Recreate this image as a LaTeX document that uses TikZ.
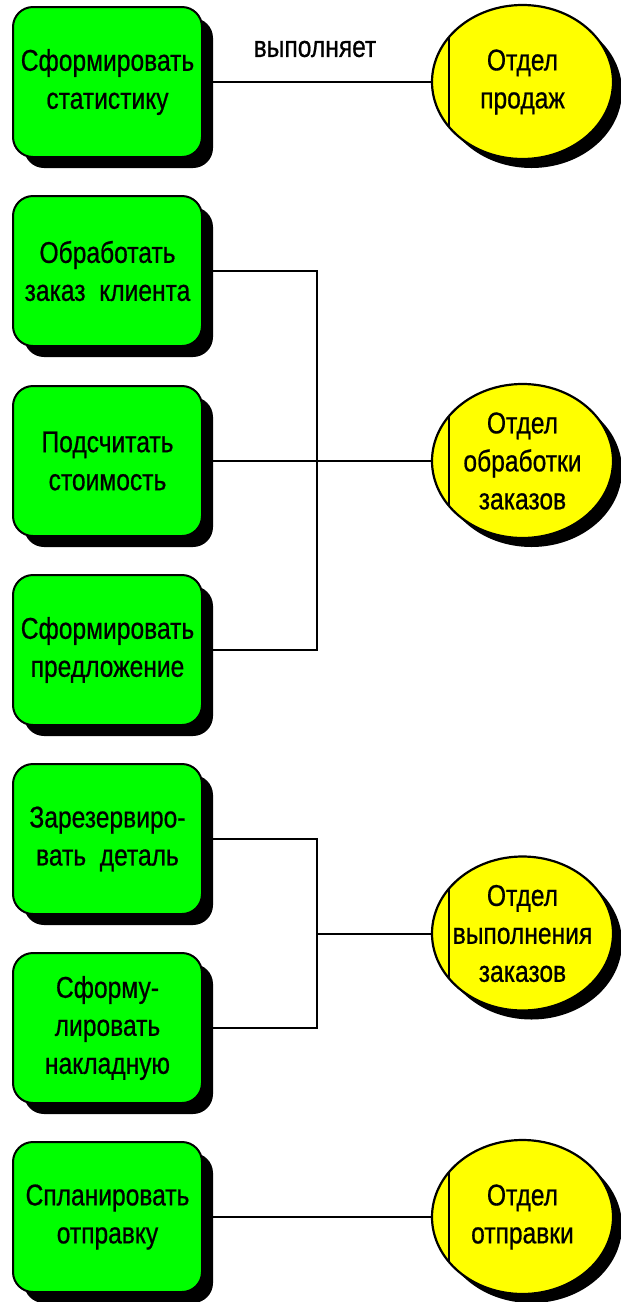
\documentclass[tikz,border=0pt]{standalone}
\usepackage{fontspec}
\setmainfont{Liberation Sans}[FakeStretch=0.82, FakeBold=0.6]
\usetikzlibrary{shapes.geometric,shadows}

\definecolor{taskgreen}{RGB}{0,255,0}
\definecolor{unityellow}{RGB}{255,255,0}

\tikzset{
  task/.style={rectangle, rounded corners=20pt, draw=black, line width=2pt,
    fill=taskgreen, minimum width=189pt, minimum height=150pt, inner sep=0pt,
    align=center, font=\fontsize{30}{38}\selectfont,
    drop shadow={shadow xshift=11pt, shadow yshift=-11pt, fill=black, opacity=1}},
  unit/.style={ellipse, draw=black, line width=2.2pt, fill=unityellow,
    minimum width=181pt, minimum height=154pt, inner sep=0pt,
    drop shadow={shadow xshift=9pt, shadow yshift=-9pt, fill=black, opacity=1},
    path picture={\draw[line width=2.2pt]
      ([xshift=17pt,yshift=100pt]path picture bounding box.west) -- ++(0,-200pt);}},
  unittext/.style={align=center, font=\fontsize{30}{38}\selectfont, inner sep=0pt},
  link/.style={draw=black, line width=2pt},
  linklabel/.style={font=\fontsize{30}{36}\selectfont}
}

\begin{document}
\begin{tikzpicture}[x=1pt, y=-1pt]
  \useasboundingbox (0,0) rectangle (621,1302);

  % tasks
  \node[task] (b1) at (107.5,82)   {Сформировать\\статистику};
  \node[task] (b2) at (107.5,271)  {Обработать\\заказ\ \ клиента};
  \node[task] (b3) at (107.5,461)  {Подсчитать\\стоимость};
  \node[task] (b4) at (107.5,650)  {Сформировать\\предложение};
  \node[task] (b5) at (107.5,839)  {Зарезервиро-\\вать\ \ деталь};
  \node[task] (b6) at (107.5,1028) {Сформу-\\лировать\\накладную};
  \node[task] (b7) at (107.5,1217) {Спланировать\\отправку};

  % organisational units (ellipse keeps its size, caption laid over it)
  \node[unit] (e1) at (522.5,82)    {};
  \node[unittext] (t1) at (e1.center) {Отдел\\продаж};
  \node[unit] (e2) at (522.5,461)   {};
  \node[unittext] (t2) at (e2.center) {Отдел\\обработки\\заказов};
  \node[unit] (e3) at (522.5,933.5) {};
  \node[unittext] (t3) at (e3.center) {Отдел\\выполнения\\заказов};
  \node[unit] (e4) at (522.5,1217)  {};
  \node[unittext] (t4) at (e4.center) {Отдел\\отправки};

  % junction column
  \coordinate (j) at (317,0);

  % connectors
  \draw[link] (b1.east) -- (e1.west);
  \node[linklabel] (lbl) at (315,49) {выполняет};

  \draw[link] (b2.east) -- (b2.east -| j) -- (b4.east -| j) -- (b4.east);
  \draw[link] (b3.east) -- (e2.west);

  \draw[link] (b5.east) -- (b5.east -| j) -- (b6.east -| j) -- (b6.east);
  \draw[link] (e3.west -| j) -- (e3.west);

  \draw[link] (b7.east) -- (e4.west);
\end{tikzpicture}
\end{document}
